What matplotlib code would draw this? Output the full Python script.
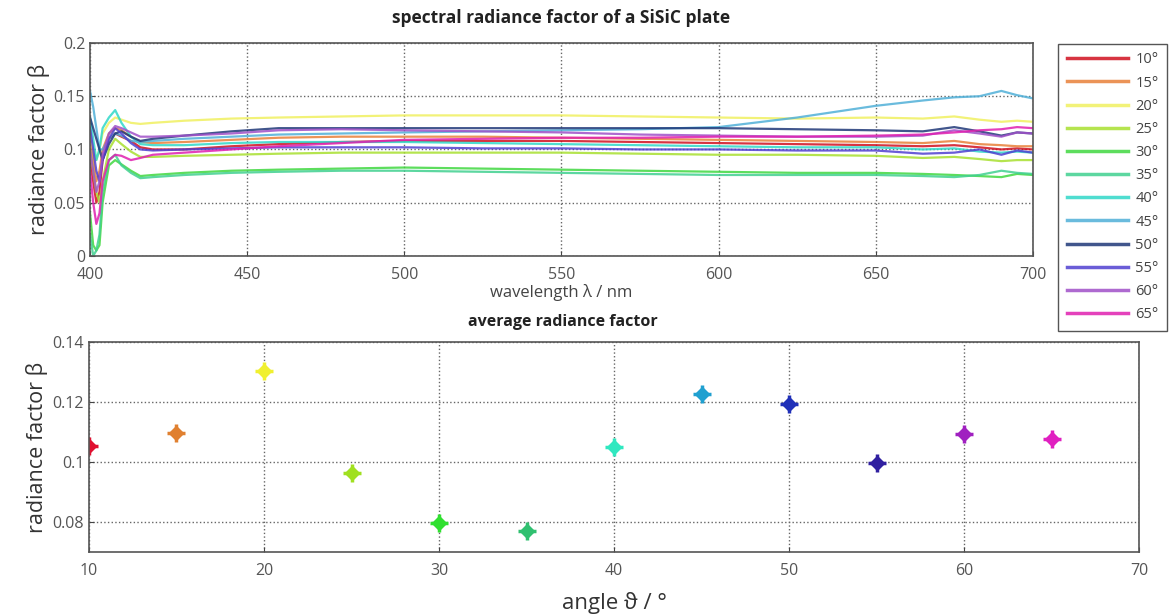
import numpy as np
import matplotlib
matplotlib.use("Agg")
import matplotlib.pyplot as plt
from matplotlib.ticker import FormatStrFormatter

plt.rcParams['font.family'] = ['Open Sans', 'DejaVu Sans']

# spectral data
wavelength = [400, 401, 402, 403, 404, 406, 408, 410, 413, 416, 420, 430, 445, 460,
              480, 500, 525, 550, 575, 600, 625, 650, 665, 675, 683, 690, 695, 700]

angles = [10, 15, 20, 25, 30, 35, 40, 45, 50, 55, 60, 65]
labels = ['10°', '15°', '20°', '25°', '30°', '35°', '40°', '45°', '50°', '55°', '60°', '65°']
colors = ['#d01020', '#e8803a', '#f0f060', '#a8e030', '#40d840', '#40d090',
          '#30d8c8', '#50b0d8', '#203878', '#5040d0', '#a050c8', '#e020b0']

beta_10 = [0.09, 0.07, 0.05, 0.06, 0.09, 0.11, 0.115, 0.112, 0.108, 0.102, 0.100, 0.100, 0.103, 0.105,
           0.107, 0.108, 0.108, 0.108, 0.107, 0.106, 0.105, 0.104, 0.103, 0.104, 0.102, 0.100, 0.101, 0.100]
beta_15 = [0.11, 0.09, 0.07, 0.08, 0.10, 0.115, 0.12, 0.118, 0.112, 0.107, 0.106, 0.107, 0.109, 0.111,
           0.112, 0.112, 0.112, 0.111, 0.110, 0.109, 0.108, 0.107, 0.106, 0.108, 0.105, 0.104, 0.103, 0.103]
beta_20 = [0.12, 0.10, 0.09, 0.10, 0.115, 0.125, 0.13, 0.128, 0.125, 0.124, 0.125, 0.127, 0.129, 0.130,
           0.131, 0.132, 0.132, 0.132, 0.131, 0.130, 0.129, 0.130, 0.129, 0.131, 0.128, 0.126, 0.127, 0.126]
beta_25 = [0.10, 0.08, 0.06, 0.05, 0.07, 0.10, 0.11, 0.105, 0.098, 0.093, 0.093, 0.094, 0.095, 0.096,
           0.097, 0.097, 0.097, 0.097, 0.096, 0.095, 0.095, 0.094, 0.092, 0.093, 0.091, 0.089, 0.090, 0.090]
beta_30 = [0.04, 0.01, 0.005, 0.01, 0.05, 0.085, 0.09, 0.086, 0.080, 0.075, 0.076, 0.078, 0.080, 0.081,
           0.082, 0.083, 0.082, 0.081, 0.080, 0.079, 0.078, 0.078, 0.077, 0.076, 0.075, 0.074, 0.077, 0.076]
beta_35 = [0.02, 0.0, 0.005, 0.02, 0.06, 0.09, 0.095, 0.085, 0.078, 0.073, 0.074, 0.076, 0.078, 0.079,
           0.080, 0.080, 0.079, 0.078, 0.077, 0.076, 0.076, 0.076, 0.075, 0.074, 0.076, 0.080, 0.078, 0.077]
beta_40 = [0.13, 0.11, 0.09, 0.10, 0.12, 0.13, 0.137, 0.125, 0.112, 0.105, 0.104, 0.104, 0.106, 0.107,
           0.107, 0.107, 0.106, 0.105, 0.104, 0.103, 0.102, 0.102, 0.100, 0.101, 0.098, 0.097, 0.098, 0.097]
beta_45 = [0.155, 0.14, 0.12, 0.10, 0.10, 0.11, 0.115, 0.113, 0.108, 0.107, 0.108, 0.110, 0.112, 0.114,
           0.115, 0.116, 0.117, 0.118, 0.119, 0.121, 0.130, 0.141, 0.146, 0.149, 0.150, 0.155, 0.151, 0.148]
beta_50 = [0.13, 0.12, 0.11, 0.10, 0.09, 0.105, 0.115, 0.117, 0.112, 0.108, 0.110, 0.113, 0.117, 0.120,
           0.120, 0.120, 0.120, 0.120, 0.120, 0.120, 0.119, 0.118, 0.117, 0.121, 0.117, 0.113, 0.116, 0.115]
beta_55 = [0.12, 0.10, 0.08, 0.07, 0.09, 0.11, 0.12, 0.115, 0.106, 0.100, 0.099, 0.100, 0.101, 0.102,
           0.102, 0.102, 0.101, 0.101, 0.100, 0.100, 0.099, 0.099, 0.096, 0.097, 0.100, 0.095, 0.099, 0.097]
beta_60 = [0.10, 0.08, 0.06, 0.07, 0.095, 0.115, 0.122, 0.12, 0.116, 0.112, 0.112, 0.113, 0.115, 0.118,
           0.119, 0.118, 0.117, 0.116, 0.114, 0.113, 0.112, 0.112, 0.113, 0.118, 0.115, 0.112, 0.116, 0.115]
beta_65 = [0.08, 0.05, 0.03, 0.04, 0.07, 0.09, 0.095, 0.094, 0.090, 0.092, 0.095, 0.097, 0.100, 0.103,
           0.106, 0.109, 0.110, 0.111, 0.111, 0.112, 0.112, 0.113, 0.114, 0.116, 0.118, 0.119, 0.121, 0.120]

spectra = [beta_10, beta_15, beta_20, beta_25, beta_30, beta_35,
           beta_40, beta_45, beta_50, beta_55, beta_60, beta_65]

# average radiance factor per angle
avg_beta = [0.1053, 0.1098, 0.1304, 0.0963, 0.0797, 0.0770,
            0.1049, 0.1227, 0.1193, 0.0997, 0.1093, 0.1076]
marker_colors = ['#e01030', '#e08030', '#f0f030', '#a0e020', '#30e030', '#30c070',
                 '#30e8c0', '#20a0d0', '#2030b8', '#3020a0', '#a020c0', '#e020c0']

fig = plt.figure(figsize=(11.71, 6.15), dpi=100)

tick_kw = dict(direction='in', labelsize=11.5, labelcolor='#555555', color='#444444')
grid_kw = dict(color='#666666', linestyle=':', linewidth=1.0)

# top: spectra
ax1 = fig.add_axes([0.0769, 0.584, 0.8051, 0.346])
for vals, lab, c in zip(spectra, labels, colors):
    ax1.plot(wavelength, vals, color=c, lw=1.6, alpha=0.85, label=lab)
ax1.set_xlim(400, 700)
ax1.set_ylim(0, 0.2)
ax1.set_xticks([400, 450, 500, 550, 600, 650, 700])
ax1.set_yticks([0, 0.05, 0.1, 0.15, 0.2])
ax1.yaxis.set_major_formatter(FormatStrFormatter('%g'))
ax1.tick_params(**tick_kw)
ax1.tick_params(axis='x', pad=8)
ax1.grid(True, **grid_kw)
ax1.set_xlabel('wavelength λ / nm', fontsize=12, color='#444444', labelpad=1)
ax1.set_ylabel('radiance factor β', fontsize=15.5, color='#333333', labelpad=3)
for s in ax1.spines.values():
    s.set_color('#555555')
    s.set_linewidth(1.2)
fig.text(0.479, 0.971, 'spectral radiance factor of a SiSiC plate', ha='center', va='center',
         fontsize=12.5, fontweight='bold', color='#222222')

leg = fig.legend(loc='upper left', bbox_to_anchor=(0.9035, 0.929), fontsize=10.5,
                 labelspacing=0.56, handlelength=4.2, handletextpad=0.5,
                 borderpad=0.6, borderaxespad=0, fancybox=False,
                 edgecolor='#555555', framealpha=1)
for line in leg.get_lines():
    line.set_linewidth(2.5)
for t in leg.get_texts():
    t.set_color('#444444')

# bottom: averages
ax2 = fig.add_axes([0.076, 0.1024, 0.8967, 0.3416])
for a, b, c in zip(angles, avg_beta, marker_colors):
    ax2.plot(a, b, marker='D', color=c, markersize=7, linestyle='none')
    ax2.plot(a, b, marker='+', color=c, markersize=13, mew=2.5, linestyle='none')
ax2.set_xlim(10, 70)
ax2.set_ylim(0.07, 0.14)
ax2.set_xticks([10, 20, 30, 40, 50, 60, 70])
ax2.set_yticks([0.08, 0.1, 0.12, 0.14])
ax2.yaxis.set_major_formatter(FormatStrFormatter('%g'))
ax2.tick_params(**tick_kw)
ax2.tick_params(axis='x', pad=8)
ax2.grid(True, **grid_kw)
ax2.set_xlabel('angle ϑ / °', fontsize=16, color='#333333', labelpad=9)
ax2.set_ylabel('radiance factor β', fontsize=15.5, color='#333333', labelpad=3)
for s in ax2.spines.values():
    s.set_color('#555555')
    s.set_linewidth(1.2)
fig.text(0.481, 0.476, 'average radiance factor', ha='center', va='center',
         fontsize=11.5, fontweight='bold', color='#222222')

fig.savefig('out.png', dpi=100)
